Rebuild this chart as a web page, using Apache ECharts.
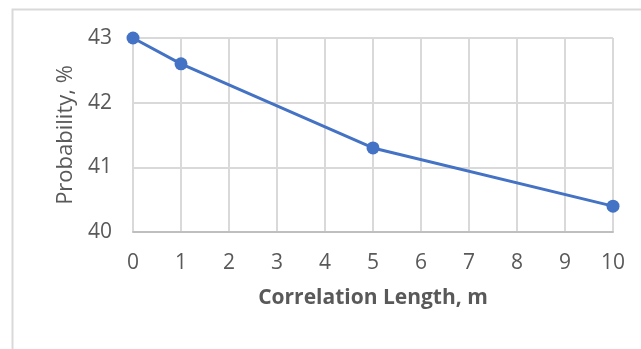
<!DOCTYPE html>
<html><head><meta charset="utf-8">
<script src="https://cdn.jsdelivr.net/npm/echarts@6/dist/echarts.min.js"></script>
<style>html,body{margin:0;padding:0;background:#fff;}#c{width:641px;height:349px;}</style>
</head><body><div id="c"></div>
<script>
const xValues = [0, 1, 5, 10];
const probability = [43, 42.6, 41.3, 40.4];
const xTitle = 'Correlation Length, m';
const yTitle = 'Probability, %';
const FONT = '"Open Sans", sans-serif';
const chart = echarts.init(document.getElementById('c'), null, {renderer: 'canvas'});
chart.setOption({
  animation: false,
  backgroundColor: '#fff',
  graphic: [{type: 'polyline', shape: {points: [[12.5, 349], [12.5, 9.5], [641, 9.5]]}, style: {stroke: '#d9d9d9', lineWidth: 2, fill: null}}],
  grid: {left: 133, right: 28, top: 38, bottom: 117},
  xAxis: {
    type: 'value', min: 0, max: 10, interval: 1,
    name: xTitle, nameLocation: 'middle', nameGap: 56,
    nameTextStyle: {fontFamily: FONT, fontSize: 21, fontWeight: 'bold', color: '#595959'},
    axisLine: {show: true, lineStyle: {color: '#bfbfbf', width: 2}},
    axisTick: {show: false},
    axisLabel: {fontFamily: FONT, fontSize: 21, color: '#595959', margin: 21},
    splitLine: {show: true, lineStyle: {color: '#d9d9d9', width: 2}}
  },
  yAxis: {
    type: 'value', min: 40, max: 43, interval: 1,
    name: yTitle, nameLocation: 'middle', nameGap: 54, nameRotate: 90,
    nameTextStyle: {fontFamily: FONT, fontSize: 22, fontWeight: 500, color: '#595959'},
    axisLine: {show: false},
    axisTick: {show: false},
    axisLabel: {fontFamily: FONT, fontSize: 21, color: '#595959', margin: 21},
    splitLine: {show: true, lineStyle: {color: '#d9d9d9', width: 2}}
  },
  series: [{
    type: 'line',
    data: xValues.map((x, i) => [x, probability[i]]),
    symbol: 'circle', symbolSize: 13,
    itemStyle: {color: '#4472C4'},
    lineStyle: {color: '#4472C4', width: 3}
  }]
});
</script></body></html>
